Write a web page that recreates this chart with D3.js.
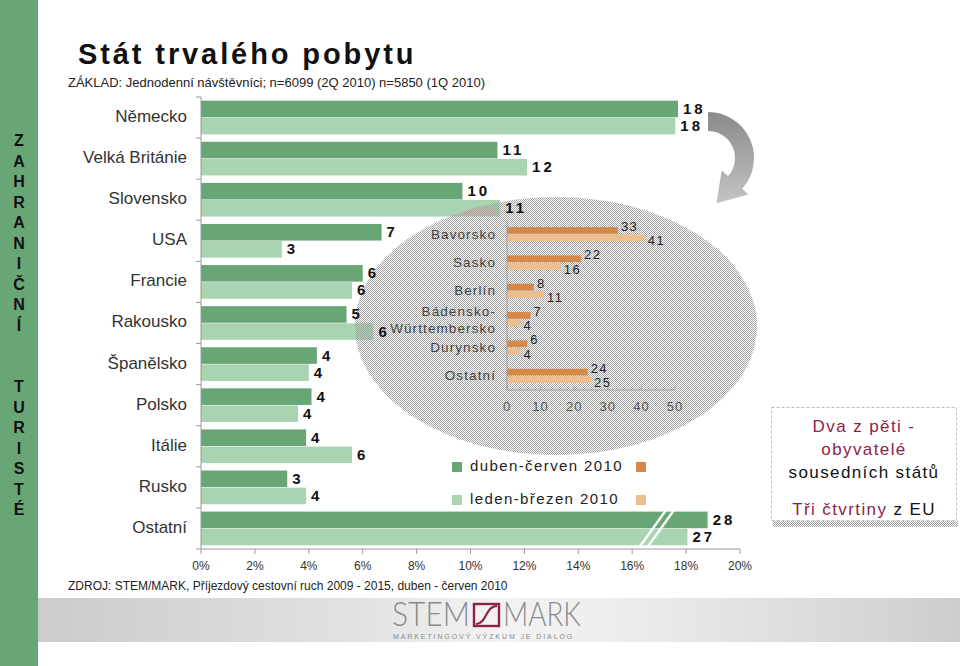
<!DOCTYPE html>
<html><head><meta charset="utf-8">
<script src="https://cdn.jsdelivr.net/npm/d3@7"></script>
<style>
html,body{margin:0;padding:0;background:#fff;}
svg{display:block;font-family:"Liberation Sans",Arial,sans-serif;}
</style></head>
<body>
<script>
// ---------- data ----------
const countries = ["Německo","Velká Británie","Slovensko","USA","Francie","Rakousko","Španělsko","Polsko","Itálie","Rusko","Ostatní"];
const q2Values = [17.7,11.0,9.7,6.7,6.0,5.4,4.3,4.1,3.9,3.2,28];
const q1Values = [17.6,12.1,11.1,3.0,5.6,6.4,4.0,3.6,5.6,3.9,27];
const xTicks = [0,2,4,6,8,10,12,14,16,18,20];
const brokenCategory = "Ostatní";
const seriesNames = ["duben-červen 2010","leden-březen 2010"];

const regions = ["Bavorsko","Sasko","Berlín","Bádensko-Württembersko","Durynsko","Ostatní"];
const regionQ2 = [33,22,8,7,6,24];
const regionQ1 = [41,16,11,4,4,25];
const regionTicks = [0,10,20,30,40,50];

const titleText = "Stát trvalého pobytu";
const baseText = "ZÁKLAD: Jednodenní návštěvníci; n=6099 (2Q 2010) n=5850 (1Q 2010)";
const sourceText = "ZDROJ: STEM/MARK, Příjezdový cestovní ruch 2009 - 2015,  duben - červen 2010";
const sideText = "ZAHRANIČNÍ  TURISTÉ";

// ---------- styles ----------
const C = {dark:"#68a676", light:"#aad3b2", oDark:"#d4894a", oLight:"#ecbe8f", maroon:"#8b2347"};
const W = 960, H = 666;

const svg = d3.select("body").append("svg").attr("width",W).attr("height",H);
const defs = svg.append("defs");

const pat = defs.append("pattern").attr("id","mesh").attr("patternUnits","userSpaceOnUse").attr("width",2).attr("height",2);
pat.append("rect").attr("x",0).attr("y",0).attr("width",1).attr("height",1).attr("fill","#a2a2a2");
pat.append("rect").attr("x",1).attr("y",1).attr("width",1).attr("height",1).attr("fill","#a2a2a2");

const fg = defs.append("linearGradient").attr("id","foot").attr("x1","0").attr("x2","1").attr("y1","0").attr("y2","0");
[[0,"#cbcbcb"],[0.35,"#e2e2e2"],[0.5,"#f3f3f3"],[0.65,"#ececec"],[1,"#cdcdcd"]].forEach(s=>fg.append("stop").attr("offset",s[0]).attr("stop-color",s[1]));
const ag = defs.append("linearGradient").attr("id","arrowG").attr("x1","0").attr("x2","0").attr("y1","0").attr("y2","1");
[[0,"#8a8a8a"],[1,"#c4c4c4"]].forEach(s=>ag.append("stop").attr("offset",s[0]).attr("stop-color",s[1]));

// left band
svg.append("rect").attr("x",0).attr("y",0).attr("width",38).attr("height",H).attr("fill",C.dark);
const sideChars = Array.from(sideText);
svg.append("g").selectAll("text").data(sideChars).join("text")
  .attr("x",19).attr("y",(d,i)=>142+i*20.5).attr("text-anchor","middle").attr("dominant-baseline","middle")
  .attr("font-size",16).attr("font-weight","bold").attr("fill","#111").text(d=>d);

// title
svg.append("text").attr("x",78).attr("y",64).attr("font-size",29).attr("font-weight","bold")
  .attr("letter-spacing",2.9).attr("fill","#111").text(titleText);
svg.append("text").attr("x",68).attr("y",87).attr("font-size",13).attr("fill","#222").text(baseText);

// footer band
svg.append("rect").attr("x",38).attr("y",598).attr("width",W-38).attr("height",44).attr("fill","url(#foot)");
svg.append("text").attr("x",68).attr("y",590).attr("font-size",12).attr("fill","#222").text(sourceText);

// ---------- main chart ----------
const x = d3.scaleLinear().domain([0,20]).range([201,740]);
const xBreak = d3.scaleLinear().domain([0,16.6,26,28]).range([x(0),x(16.6),x(17.3),x(18.8)]);
const y = d3.scaleBand().domain(countries).range([97,549]).paddingInner(0.18).paddingOuter(0.09);
const sub = d3.scaleBand().domain([0,1]).range([0,y.bandwidth()]).paddingInner(0.03);

const rows = countries.map((c,i)=>({c, vals:[q2Values[i],q1Values[i]]}));
const bars = [];
rows.forEach(r=>r.vals.forEach((v,s)=>bars.push({c:r.c,s,v})));
const xFor = d=> d.c===brokenCategory ? xBreak(d.v) : x(d.v);

const gMain = svg.append("g");
gMain.selectAll("rect").data(bars).join("rect")
  .attr("x",x(0)).attr("y",d=>y(d.c)+sub(d.s)).attr("height",sub.bandwidth())
  .attr("width",d=>xFor(d)-x(0)).attr("fill",d=>d.s===0?C.dark:C.light);

// break marks
const ob = y(brokenCategory);
[0,8].forEach(off=>{
  gMain.append("line").attr("x1",x(16.6)-9+off).attr("y1",ob+y.bandwidth()+2)
    .attr("x2",x(16.6)+18+off).attr("y2",ob-2).attr("stroke","#fff").attr("stroke-width",2.5);
});

// axes
const axG = svg.append("g").attr("stroke","#9a9a9a").attr("stroke-width",1);
axG.append("line").attr("x1",x(0)).attr("x2",x(0)).attr("y1",97).attr("y2",549);
axG.append("line").attr("x1",x(0)).attr("x2",x(20)).attr("y1",549).attr("y2",549);
const bounds = countries.map(c=>y(c)-y.step()*y.paddingInner()/2).concat([549]);
axG.selectAll(".yt").data(bounds).join("line").attr("x1",x(0)-5).attr("x2",x(0)).attr("y1",d=>d).attr("y2",d=>d);
axG.selectAll(".xt").data(xTicks).join("line").attr("x1",d=>x(d)).attr("x2",d=>x(d)).attr("y1",549).attr("y2",554);
svg.append("g").selectAll("text").data(xTicks).join("text")
  .attr("x",d=>x(d)).attr("y",570).attr("text-anchor","middle").attr("font-size",12).attr("fill","#333")
  .text(d=>d+"%");
svg.append("g").selectAll("text").data(countries).join("text")
  .attr("x",187).attr("y",d=>y(d)+y.bandwidth()/2).attr("dominant-baseline","middle")
  .attr("text-anchor","end").attr("font-size",17).attr("fill","#333").text(d=>d);

// ellipse
svg.append("ellipse").attr("cx",556).attr("cy",326).attr("rx",201).attr("ry",129).attr("fill","url(#mesh)");

// main value labels
svg.append("g").selectAll("text").data(bars).join("text")
  .attr("x",d=>xFor(d)+5).attr("y",d=>y(d.c)+sub(d.s)+sub.bandwidth()/2+1)
  .attr("dominant-baseline","middle").attr("font-size",15).attr("font-weight","bold")
  .attr("letter-spacing",d=>Math.round(d.v)>=10?3:0).attr("fill","#111")
  .text(d=>d3.format(".0f")(d.v));

// ---------- inset chart ----------
const xi = d3.scaleLinear().domain([0,50]).range([507,675]);
const yi = d3.scaleBand().domain(regions).range([220,390]).paddingInner(0.5).paddingOuter(0.25);
const subi = d3.scaleBand().domain([0,1]).range([0,yi.bandwidth()]).paddingInner(0.1);
const ibars = [];
regions.forEach((r,i)=>{ibars.push({r,s:0,v:regionQ2[i]}); ibars.push({r,s:1,v:regionQ1[i]});});
const gI = svg.append("g");
gI.selectAll("rect").data(ibars).join("rect")
  .attr("x",xi(0)).attr("y",d=>yi(d.r)+subi(d.s)).attr("height",subi.bandwidth())
  .attr("width",d=>xi(d.v)-xi(0)).attr("fill",d=>d.s===0?C.oDark:C.oLight);
gI.append("line").attr("x1",xi(0)).attr("x2",xi(0)).attr("y1",220).attr("y2",390).attr("stroke","#a0a0a0");
gI.append("line").attr("x1",xi(0)).attr("x2",xi(50)).attr("y1",390).attr("y2",390).attr("stroke","#a0a0a0");
gI.selectAll(".t").data(regionTicks).join("line").attr("x1",d=>xi(d)).attr("x2",d=>xi(d)).attr("y1",390).attr("y2",386).attr("stroke","#a0a0a0");
gI.selectAll(".tl").data(regionTicks).join("text").attr("x",d=>xi(d)).attr("y",411).attr("text-anchor","middle")
  .attr("font-size",13).attr("letter-spacing",1).attr("fill","#555").text(d=>d);
gI.selectAll(".vl").data(ibars).join("text")
  .attr("x",d=>xi(d.v)+3).attr("y",d=>yi(d.r)+subi(d.s)+subi.bandwidth()/2+(d.s===0?-3:4))
  .attr("dominant-baseline","middle").attr("font-size",13).attr("letter-spacing",1.5).attr("fill","#222")
  .text(d=>d.v);
const rl = gI.selectAll(".rl").data(regions).join("text")
  .attr("x",496).attr("y",d=>yi(d)+yi.bandwidth()/2+1).attr("text-anchor","end")
  .attr("font-size",13.5).attr("letter-spacing",1.1).attr("fill","#444");
rl.each(function(d){
  const parts = d.includes("-") ? [d.slice(0,d.indexOf("-")+1), d.slice(d.indexOf("-")+1)] : [d];
  const t = d3.select(this);
  parts.forEach((p,k)=>{
    t.append("tspan").attr("x",496).attr("dy", parts.length>1 ? (k===0?-8:17) : 0)
     .attr("dominant-baseline","middle").text(p);
  });
});

// legend
const lg = svg.append("g");
seriesNames.forEach((n,i)=>{
  const ly = 467 + i*33;
  lg.append("rect").attr("x",452).attr("y",ly-5).attr("width",10).attr("height",10).attr("fill",i===0?C.dark:C.light);
  lg.append("text").attr("x",470).attr("y",ly).attr("dominant-baseline","middle").attr("font-size",15)
    .attr("letter-spacing",1.4).attr("fill","#222").text(n);
  lg.append("rect").attr("x",636).attr("y",ly-5).attr("width",10).attr("height",10).attr("fill",i===0?C.oDark:C.oLight);
});

// arrow
(function(){
  const cx=708, cy=158, R=46, r=27, a1=132*Math.PI/180;
  const P=(rad,a)=>[cx+rad*Math.sin(a), cy-rad*Math.cos(a)];
  const mid=(R+r)/2, hw=18;
  const m=P(mid,a1), tan=[Math.cos(a1),Math.sin(a1)];
  const tip=[m[0]+tan[0]*28, m[1]+tan[1]*28];
  const o0=P(R,0), o1=P(R,a1), i1=P(r,a1), i0=P(r,0);
  const h1=P(mid+hw,a1), h2=P(mid-hw,a1);
  const path = `M${o0}A${R},${R} 0 0 1 ${o1}L${h1}L${tip}L${h2}L${i1}A${r},${r} 0 0 0 ${i0}Z`;
  svg.append("path").attr("d",path).attr("fill","url(#arrowG)");
})();

// right box
svg.append("rect").attr("x",773).attr("y",521).attr("width",185).attr("height",6).attr("fill","url(#mesh)");
svg.append("rect").attr("x",771.5).attr("y",407.5).attr("width",185).attr("height",113).attr("fill","#fff")
  .attr("stroke","#bdbdbd").attr("stroke-dasharray","3,2");
const bx = 864;
const boxLines = [
  [{t:"Dva z pěti -",c:C.maroon}],
  [{t:"obyvatelé",c:C.maroon}],
  [{t:"sousedních států",c:"#111"}],
  [{t:"Tři čtvrtiny",c:C.maroon},{t:" z EU",c:"#111"}]
];
const boxY = [428,451,474,511];
boxLines.forEach((ln,i)=>{
  const t = svg.append("text").attr("x",bx).attr("y",boxY[i]).attr("text-anchor","middle")
    .attr("dominant-baseline","middle").attr("font-size",17).attr("letter-spacing",1.4);
  ln.forEach(s=>t.append("tspan").attr("fill",s.c).text(s.t));
});

// logo
const logo = svg.append("g");
logo.append("text").attr("x",392).attr("y",626).attr("font-family","Lato, sans-serif").attr("font-weight",300)
  .attr("font-size",33).attr("fill","#8a8a8a").attr("textLength",78).attr("lengthAdjust","spacingAndGlyphs").text("STEM");
logo.append("rect").attr("x",474).attr("y",604).attr("width",25).attr("height",22).attr("fill","none")
  .attr("stroke",C.maroon).attr("stroke-width",2.4);
logo.append("path").attr("d","M476,624 C487,624 485,606 497,606").attr("fill","none").attr("stroke",C.maroon).attr("stroke-width",2.2);
logo.append("text").attr("x",503).attr("y",626).attr("font-family","Lato, sans-serif").attr("font-weight",300)
  .attr("font-size",33).attr("fill","#8a8a8a").attr("textLength",78).attr("lengthAdjust","spacingAndGlyphs").text("MARK");
logo.append("text").attr("x",393).attr("y",639).attr("font-size",7).attr("letter-spacing",1.9)
  .attr("fill","#8a8a8a").text("MARKETINGOVÝ VÝZKUM JE DIALOG");
</script>
</body></html>
